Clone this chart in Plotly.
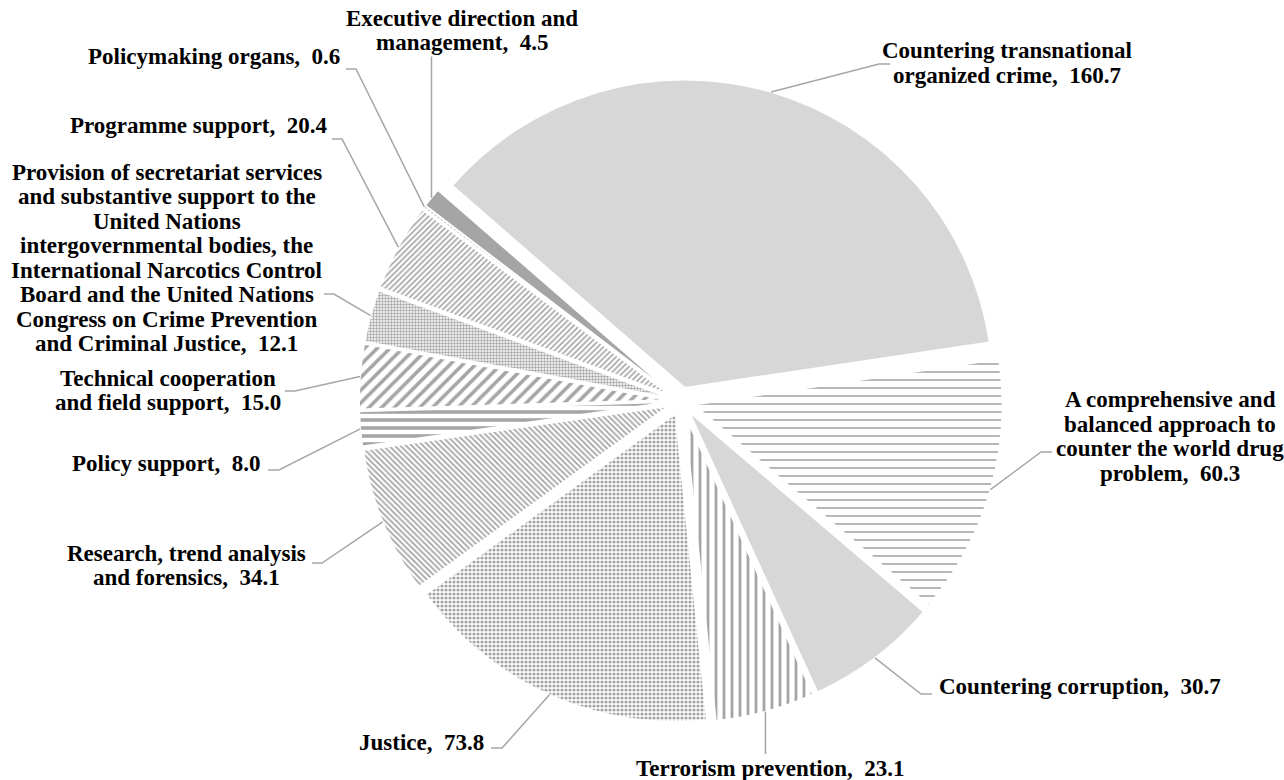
import math
import plotly.graph_objects as go

W, H = 1284, 780

# ---- data -------------------------------------------------------------
categories = [
    "Countering transnational organized crime",
    "A comprehensive and balanced approach to counter the world drug problem",
    "Countering corruption",
    "Terrorism prevention",
    "Justice",
    "Research, trend analysis and forensics",
    "Policy support",
    "Technical cooperation and field support",
    "Provision of secretariat services and substantive support to the United Nations "
    "intergovernmental bodies, the International Narcotics Control Board and the "
    "United Nations Congress on Crime Prevention and Criminal Justice",
    "Programme support",
    "Policymaking organs",
    "Executive direction and management",
]
values = [160.7, 60.3, 30.7, 23.1, 73.8, 34.1, 8.0, 15.0, 12.1, 20.4, 0.6, 4.5]

# wrapped label text (the value is appended to the last line)
label_lines = [
    ["Countering transnational", "organized crime,"],
    ["A comprehensive and", "balanced approach to", "counter the world drug", "problem,"],
    ["Countering corruption,"],
    ["Terrorism prevention,"],
    ["Justice,"],
    ["Research, trend analysis", "and forensics,"],
    ["Policy support,"],
    ["Technical cooperation", "and field support,"],
    ["Provision of secretariat services", "and substantive support to the",
     "United Nations", "intergovernmental bodies, the",
     "International Narcotics Control", "Board and the United Nations",
     "Congress on Crime Prevention", "and Criminal Justice,"],
    ["Programme support,"],
    ["Policymaking organs,"],
    ["Executive direction and", "management,"],
]

# ---- styling ----------------------------------------------------------
GRAY = "#a5a5a5"
LINE_GRAY = "#a6a6a6"
FONT = "Liberation Serif, Times New Roman, serif"
FSIZE = 23
LINE_STEP = 24.5

pattern_shapes = [".", "-", ".", "|", ".", "\\", "-", "/", ".", "/", "/", ""]
pattern_sizes = [2, 8, 2, 8, 4, 4, 8, 9, 3, 4, 4, 8]
pattern_solid = [0.5, 0.2, 0.5, 0.35, 0.5, 0.45, 0.45, 0.4, 0.5, 0.4, 0.4, 0.5]

# pie geometry in pixels
CX, CY, R, PULL = 681.0, 401.0, 308.0, 0.045
ROTATION = 311
half = R * (1 + PULL)

dom_x = [(CX - half) / W, (CX + half) / W]
dom_y = [1 - (CY + half) / H, 1 - (CY - half) / H]

fig = go.Figure(
    go.Pie(
        labels=categories,
        values=values,
        sort=False,
        direction="clockwise",
        rotation=ROTATION,
        pull=[PULL] * len(values),
        textinfo="none",
        hoverinfo="label+value",
        showlegend=False,
        domain=dict(x=dom_x, y=dom_y),
        marker=dict(
            colors=[GRAY] * len(values),
            line=dict(color="white", width=1.5),
            pattern=dict(
                shape=pattern_shapes,
                size=pattern_sizes,
                solidity=pattern_solid,
                fgcolor=[GRAY] * len(values),
                bgcolor=["white"] * len(values),
                fillmode="replace",
            ),
        ),
    )
)

total = sum(values)


def arc_point(i):
    """Point on the outer arc of slice i, along its bisector (pixels)."""
    mid = math.radians(ROTATION + 360 * (sum(values[:i]) + values[i] / 2) / total)
    ax = CX + PULL * R * math.sin(mid)
    ay = CY - PULL * R * math.cos(mid)
    return ax + R * math.sin(mid), ay - R * math.cos(mid)


def px(x, y):
    return x / W, 1 - y / H


# label placement: (x, anchor, y of first line, leader points from label side)
placement = [
    (1007, "center", 51, [(890, 64), (879, 64)]),
    (1170, "center", 400, [(1052, 452), (1041, 452)]),
    (937, "left", 686, [(932, 694), (921, 694)]),
    (770, "center", 768, "vbottom"),
    (486, "right", 742, [(491, 748), (502, 748)]),
    (187, "center", 553, [(312, 563), (322, 563)]),
    (262, "right", 463, [(268, 470), (279, 470)]),
    (168, "center", 378, [(285, 391), (295, 391)]),
    (167, "center", 172, [(324, 294), (334, 294)]),
    (330, "right", 126, [(332, 139), (342, 139)]),
    (342, "right", 57, [(346, 69), (356, 69)]),
    (462, "center", 18, "vtop"),
]

annotations = []
shapes = []
for i, (x, anchor, y0, leader) in enumerate(placement):
    lines = list(label_lines[i])
    lines[-1] = f"{lines[-1]}  {values[i]:.1f}"
    for k, t in enumerate(lines):
        xp, yp = px(x, y0 + k * LINE_STEP)
        annotations.append(dict(
            x=xp, y=yp, xref="paper", yref="paper", text=f"<b>{t}</b>",
            showarrow=False, xanchor=anchor, yanchor="middle",
            font=dict(family=FONT, size=FSIZE, color="black", weight="bold"),
        ))
    ex, ey = arc_point(i)
    if leader == "vbottom":
        pts = [(ex, y0 - 14), (ex, ey)]
    elif leader == "vtop":
        pts = [(ex, y0 + (len(lines) - 1) * LINE_STEP + 14), (ex, ey)]
    else:
        pts = list(leader) + [(ex, ey)]
    path = " ".join(
        ("M" if j == 0 else "L") + f" {px(a, b)[0]:.5f},{px(a, b)[1]:.5f}"
        for j, (a, b) in enumerate(pts)
    )
    shapes.append(dict(type="path", xref="paper", yref="paper", path=path,
                       line=dict(color=LINE_GRAY, width=1.5)))

fig.update_layout(
    width=W,
    height=H,
    margin=dict(l=0, r=0, t=0, b=0),
    paper_bgcolor="white",
    plot_bgcolor="white",
    annotations=annotations,
    shapes=shapes,
)

fig.write_html("out.html")
